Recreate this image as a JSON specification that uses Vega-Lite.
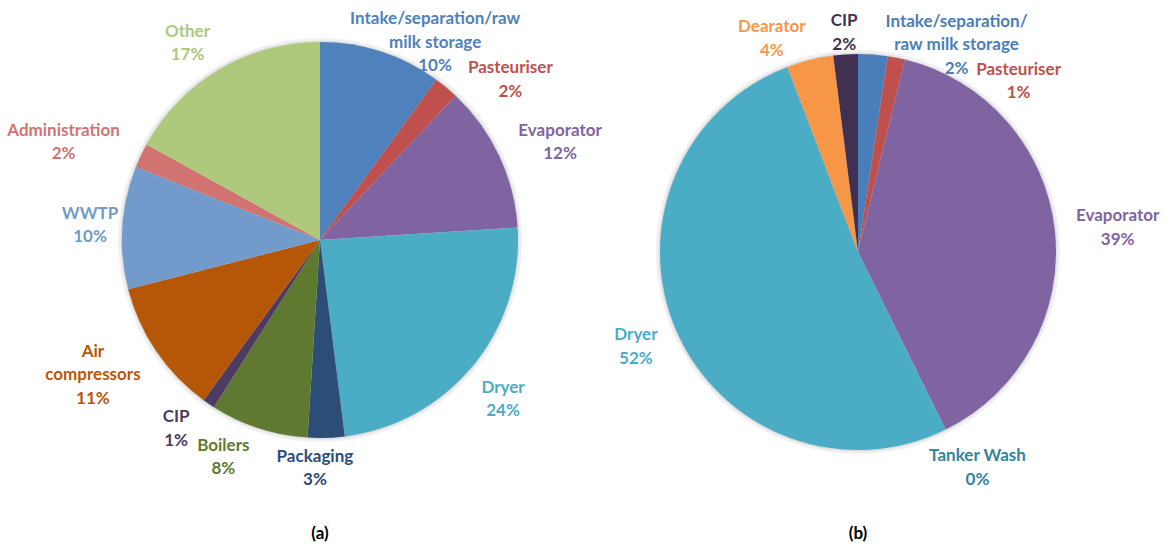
{
  "$schema": "https://vega.github.io/schema/vega-lite/v6.json",
  "padding": 0,
  "background": "white",
  "spacing": 0,
  "bounds": "flush",
  "config": {"view": {"stroke": null}, "font": "Lato"},
  "resolve": {"scale": {"color": "independent", "theta": "independent"}},
  "hconcat": [
    {
      "width": 640,
      "height": 480,
      "title": {"text": "(a)", "orient": "bottom", "offset": 38, "fontSize": 17, "fontWeight": "bold", "color": "#000000", "font": "Lato"},
      "data": {"values": [
        {"i": 1, "k": "Intake", "v": 10, "lbl": "Intake/separation/raw|milk storage|10%"},
        {"i": 2, "k": "Pasteuriser", "v": 2, "lbl": "Pasteuriser|2%"},
        {"i": 3, "k": "Evaporator", "v": 12, "lbl": "Evaporator|12%"},
        {"i": 4, "k": "Dryer", "v": 24, "lbl": "Dryer|24%"},
        {"i": 5, "k": "Packaging", "v": 3, "lbl": "Packaging|3%"},
        {"i": 6, "k": "Boilers", "v": 8, "lbl": "Boilers|8%"},
        {"i": 7, "k": "CIP", "v": 1, "lbl": "CIP|1%"},
        {"i": 8, "k": "Air compressors", "v": 11, "lbl": "Air|compressors|11%"},
        {"i": 9, "k": "WWTP", "v": 10, "lbl": "WWTP|10%"},
        {"i": 10, "k": "Administration", "v": 2, "lbl": "Administration|2%"},
        {"i": 11, "k": "Other", "v": 17, "lbl": "Other|17%"}
      ]},
      "encoding": {
        "theta": {"field": "v", "type": "quantitative", "stack": true},
        "order": {"field": "i", "type": "quantitative"},
        "color": {"field": "k", "type": "nominal", "legend": null,
          "scale": {
            "domain": ["Intake", "Pasteuriser", "Evaporator", "Dryer", "Packaging", "Boilers", "CIP", "Air compressors", "WWTP", "Administration", "Other"],
            "range": ["#4F81BD", "#C0504D", "#8064A2", "#4BACC6", "#2C4D75", "#5F7A30", "#4D3B62", "#B65708", "#729ACA", "#D07371", "#AEC97B"]
          }}
      },
      "layer": [
        {"mark": {"type": "arc", "outerRadius": 202}, "encoding": {"color": {"value": "#f1f1f1"}}},
        {"mark": {"type": "arc", "outerRadius": 199.5}, "encoding": {"color": {"value": "#dedede"}}},
        {"mark": {"type": "arc", "outerRadius": 198}},
        {
          "mark": {
            "type": "text", "radius": 210, "fontSize": 17, "fontWeight": "bold", "lineBreak": "|", "lineHeight": 23.5, "baseline": "middle", "align": "center",
            "dx": {"expr": "10*sin(PI*(datum.v_start+datum.v_end)/100) + (sin(PI*(datum.v_start+datum.v_end)/100) > 0.2 ? 4.1 : (sin(PI*(datum.v_start+datum.v_end)/100) < -0.2 ? -4.1 : 0))*max(length(split(datum.lbl,'|')[0]), length(split(datum.lbl,'|')[1])) + (datum.k == 'Intake' ? -39 : (datum.k == 'Pasteuriser' ? 5 : (datum.k == 'Dryer' ? -7 : (datum.k == 'Packaging' ? -12 : (datum.k == 'CIP' ? -8 : (datum.k == 'WWTP' ? 6 : 0))))))"},
            "dy": {"expr": "5*cos(PI*(datum.v_start+datum.v_end)/100) - (length(split(datum.lbl,'|'))-1)*11.75 - cos(PI*(datum.v_start+datum.v_end)/100)*length(split(datum.lbl,'|'))*11.75 + (datum.k == 'Intake' ? 31 : (datum.k == 'Pasteuriser' ? 16 : (datum.k == 'Dryer' ? 14 : 0)))"}
          },
          "encoding": {"text": {"field": "lbl", "type": "nominal"}}
        }
      ]
    },
    {
      "width": 436,
      "height": 504,
      "title": {"text": "(b)", "orient": "bottom", "offset": 22, "fontSize": 17, "fontWeight": "bold", "color": "#000000", "font": "Lato"},
      "data": {"values": [
        {"i": 1, "k": "Intake", "v": 2.4, "lbl": "Intake/separation/|raw milk storage|2%"},
        {"i": 2, "k": "Pasteuriser", "v": 1.4, "lbl": "Pasteuriser|1%"},
        {"i": 3, "k": "Evaporator", "v": 38.9, "lbl": "Evaporator|39%"},
        {"i": 4, "k": "Tanker Wash", "v": 0, "lbl": "Tanker Wash|0%"},
        {"i": 5, "k": "Dryer", "v": 51.5, "lbl": "Dryer|52%"},
        {"i": 6, "k": "Dearator", "v": 3.8, "lbl": "Dearator|4%"},
        {"i": 7, "k": "CIP", "v": 2.0, "lbl": "CIP|2%"}
      ]},
      "encoding": {
        "theta": {"field": "v", "type": "quantitative", "stack": true},
        "order": {"field": "i", "type": "quantitative"},
        "color": {"field": "k", "type": "nominal", "legend": null,
          "scale": {
            "domain": ["Intake", "Pasteuriser", "Evaporator", "Tanker Wash", "Dryer", "Dearator", "CIP"],
            "range": ["#4A7EBB", "#C0504D", "#8064A2", "#31859C", "#4BACC6", "#F79646", "#403152"]
          }}
      },
      "layer": [
        {"mark": {"type": "arc", "outerRadius": 202}, "encoding": {"color": {"value": "#f1f1f1"}}},
        {"mark": {"type": "arc", "outerRadius": 199.5}, "encoding": {"color": {"value": "#dedede"}}},
        {"mark": {"type": "arc", "outerRadius": 198}},
        {
          "mark": {
            "type": "text", "radius": 210, "fontSize": 17, "fontWeight": "bold", "lineBreak": "|", "lineHeight": 23.5, "baseline": "middle", "align": "center",
            "dx": {"expr": "10*sin(PI*(datum.v_start+datum.v_end)/100) + (sin(PI*(datum.v_start+datum.v_end)/100) > 0.2 ? 4.1 : (sin(PI*(datum.v_start+datum.v_end)/100) < -0.2 ? -4.1 : 0))*max(length(split(datum.lbl,'|')[0]), length(split(datum.lbl,'|')[1])) + (datum.k == 'Intake' ? 82 : (datum.k == 'Pasteuriser' ? 118 : (datum.k == 'Tanker Wash' ? -23 : 0)))"},
            "dy": {"expr": "5*cos(PI*(datum.v_start+datum.v_end)/100) + 9*abs(cos(PI*(datum.v_start+datum.v_end)/100)) - (length(split(datum.lbl,'|'))-1)*11.75 - cos(PI*(datum.v_start+datum.v_end)/100)*length(split(datum.lbl,'|'))*11.75 + (datum.k == 'Intake' ? 24 : (datum.k == 'Pasteuriser' ? 45 : (datum.k == 'Tanker Wash' ? 3 : 0)))"}
          },
          "encoding": {"text": {"field": "lbl", "type": "nominal"}}
        }
      ]
    }
  ]
}
